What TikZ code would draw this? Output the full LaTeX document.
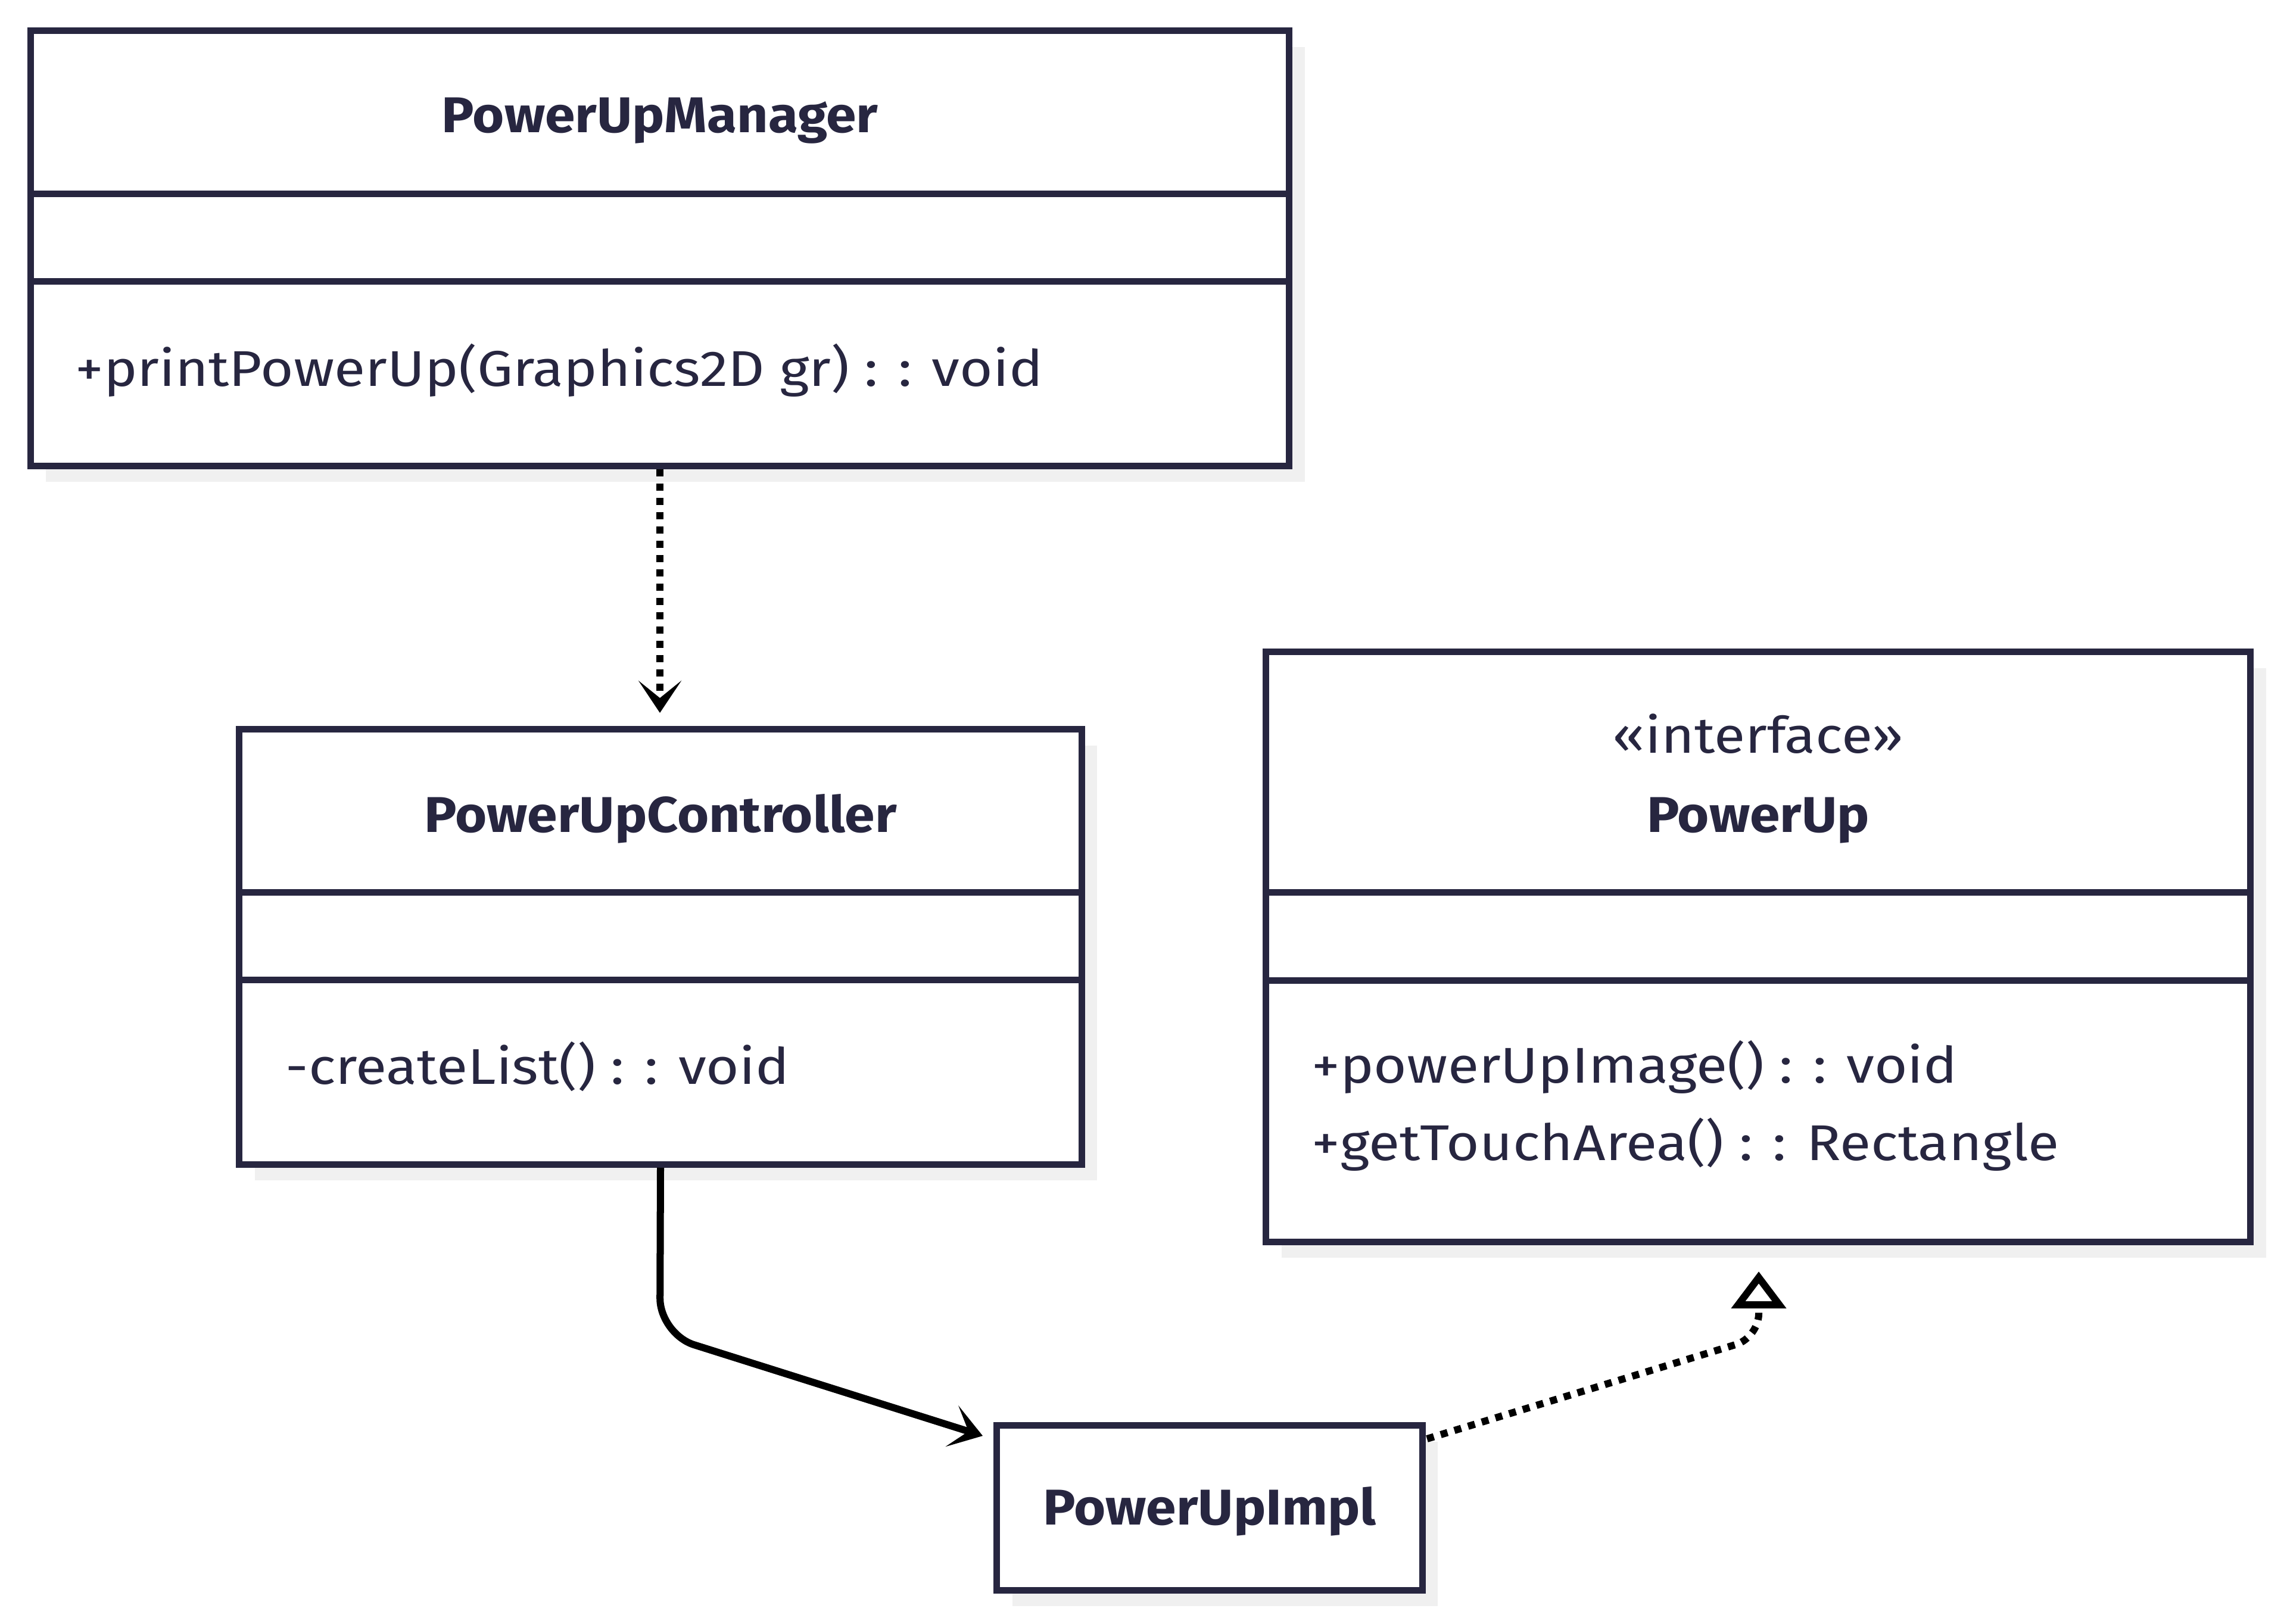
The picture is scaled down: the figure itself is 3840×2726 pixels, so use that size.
\documentclass[tikz,border=0pt]{standalone}
\usepackage{fontspec}
\setmainfont{Fira Sans}
\newfontfamily\memberfont{Fira Sans}[FakeStretch=1.13]
\newfontfamily\titlefont{Fira Sans}[FakeStretch=1.08]
\usetikzlibrary{arrows.meta,shadows}
\definecolor{ink}{HTML}{272640}
\definecolor{shade}{HTML}{F0F0F0}
\begin{document}
\begin{tikzpicture}[x=0.01cm,y=-0.01cm,
  box/.style={draw=ink, line width=0.11cm, fill=white, rectangle, inner sep=0pt,
    drop shadow={fill=shade, opacity=1, shadow xshift=0.26cm, shadow yshift=-0.27cm}},
  divider/.style={draw=ink, line width=0.11cm},
  title/.style={font=\titlefont\bfseries\fontsize{24}{28}\selectfont, text=ink, anchor=base, inner sep=0pt},
  stereo/.style={font=\memberfont\fontsize{24}{28}\selectfont, text=ink, anchor=base, inner sep=0pt},
  member/.style={font=\memberfont\fontsize{24}{28}\selectfont, text=ink, anchor=base west, inner sep=0pt},
  chev/.tip={Stealth[length=0.54cm,width=0.72cm,inset=0.29cm]},
  dep/.style={draw=black, line width=0.12cm, dash pattern=on 0.12cm off 0.12cm, -chev},
  assoc/.style={draw=black, line width=0.12cm, rounded corners=0.6cm, -chev},
  real/.style={draw=black, line width=0.12cm, dash pattern=on 0.12cm off 0.12cm, rounded corners=0.4cm,
    -{Triangle[open, length=0.62cm, width=0.9cm]}}
]
\useasboundingbox (0,0) rectangle (3840,2726);

% PowerUpManager
\node[box, minimum width=21.12cm, minimum height=7.30cm] (mgr) at (1108,417) {};
\draw[divider] (mgr.west |- 0,325) -- (mgr.east |- 0,325);
\draw[divider] (mgr.west |- 0,472) -- (mgr.east |- 0,472);
\node[title] (mgrT) at (1108,222) {PowerUpManager};
\node[member] (mgrM) at (126,648) {+printPowerUp(Graphics2D gr) : : void};

% PowerUpController
\node[box, minimum width=14.14cm, minimum height=7.30cm] (ctrl) at (1109,1590) {};
\draw[divider] (ctrl.west |- 0,1498) -- (ctrl.east |- 0,1498);
\draw[divider] (ctrl.west |- 0,1645) -- (ctrl.east |- 0,1645);
\node[title] (ctrlT) at (1109,1397) {PowerUpController};
\node[member] (ctrlM) at (479,1820) {-createList() : : void};

% PowerUp interface
\node[box, minimum width=16.52cm, minimum height=9.90cm] (pu) at (2952,1590) {};
\draw[divider] (pu.west |- 0,1498) -- (pu.east |- 0,1498);
\draw[divider] (pu.west |- 0,1646) -- (pu.east |- 0,1646);
\node[stereo] (puS) at (2952,1264) {«interface»};
\node[title] (puT) at (2952,1397) {PowerUp};
\node[member] (puM1) at (2202,1818) {+powerUpImage() : : void};
\node[member] (puM2) at (2202,1948) {+getTouchArea() : : Rectangle};

% PowerUpImpl
\node[box, minimum width=7.14cm, minimum height=2.76cm] (impl) at (2031,2532) {};
\node[title] (implT) at (2031,2560) {PowerUpImpl};

% connectors
\coordinate (depEnd) at (1108,1197);
\draw[dep] (mgr.south) -- (depEnd);

\coordinate (implIn) at (1650,2411);
\draw[assoc] (ctrl.south) -- (1108,2240) -- (implIn);

\coordinate (implOut) at (2396,2416);
\coordinate (puIn) at (2953,2135);
\draw[real] (implOut) -- (2953,2246) -- (puIn);
\end{tikzpicture}
\end{document}
